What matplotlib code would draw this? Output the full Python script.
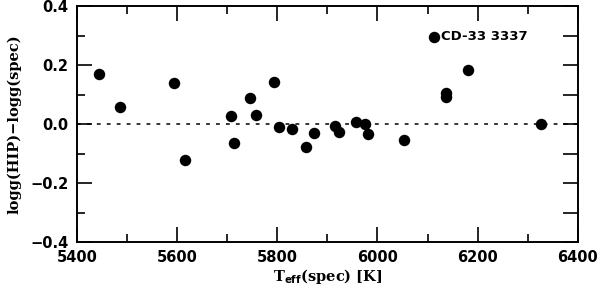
import numpy as np
from matplotlib import pyplot as plt
from matplotlib.ticker import MultipleLocator

# T_eff(spec) [K] and logg(HIP) - logg(spec)
teff = np.array([5444, 5487, 5594, 5616, 5707, 5714, 5745, 5757, 5793, 5804,
                 5829, 5857, 5873, 5915, 5924, 5957, 5975, 5982, 6053, 6112,
                 6136, 6137, 6180, 6327])
dlogg = np.array([0.170, 0.058, 0.138, -0.122, 0.029, -0.063, 0.090, 0.032,
                  0.143, -0.010, -0.016, -0.077, -0.029, -0.006, -0.027, 0.006,
                  -0.001, -0.034, -0.053, 0.296, 0.107, 0.092, 0.182, 0.001])
star_name = 'CD-33 3337'
star_idx = 19

fig = plt.figure(figsize=(6, 2.91), dpi=100)
ax = fig.add_axes([0.128, 0.168, 0.835, 0.811])

ax.axhline(0, color='black', lw=1.1, ls=(0, (2.5, 4)), zorder=1)
ax.scatter(teff, dlogg, s=68, color='black', zorder=3, linewidths=0)
ax.text(teff[star_idx] + 14, dlogg[star_idx], star_name, fontsize=9.5,
        fontweight='bold', family='DejaVu Sans', va='center', ha='left')

ax.set_xlim(5400, 6400)
ax.set_ylim(-0.4, 0.4)
ax.xaxis.set_major_locator(MultipleLocator(200))
ax.xaxis.set_minor_locator(MultipleLocator(100))
ax.yaxis.set_major_locator(MultipleLocator(0.2))
ax.yaxis.set_minor_locator(MultipleLocator(0.1))
ax.set_yticks([-0.4, -0.2, 0.0, 0.2, 0.4])
ax.set_yticklabels(['\u22120.4', '\u22120.2', '0.0', '0.2', '0.4'])
ax.tick_params(which='both', direction='in', top=True, right=False, width=1.2,
               labelsize=10.5, pad=6)
ax.tick_params(which='major', length=11)
ax.tick_params(which='minor', length=6)
for lab in ax.get_xticklabels() + ax.get_yticklabels():
    lab.set_fontweight('bold')

# right side: equal-length ticks every 0.1
ax2 = ax.twinx()
ax2.set_ylim(-0.4, 0.4)
ax2.yaxis.set_major_locator(MultipleLocator(0.1))
ax2.tick_params(direction='in', length=11, width=1.2, labelright=False)
for a in (ax, ax2):
    for sp in a.spines.values():
        sp.set_linewidth(1.2)

ax.set_ylabel('logg(HIP)\u2212logg(spec)', family='DejaVu Serif',
              fontweight='bold', fontsize=10.5, labelpad=6)
ax.set_xlabel(r'T$_{\mathbf{eff}}$(spec) [K]', family='DejaVu Serif',
              fontweight='bold', fontsize=10.5, labelpad=1)

fig.savefig('out.png', dpi=100)
